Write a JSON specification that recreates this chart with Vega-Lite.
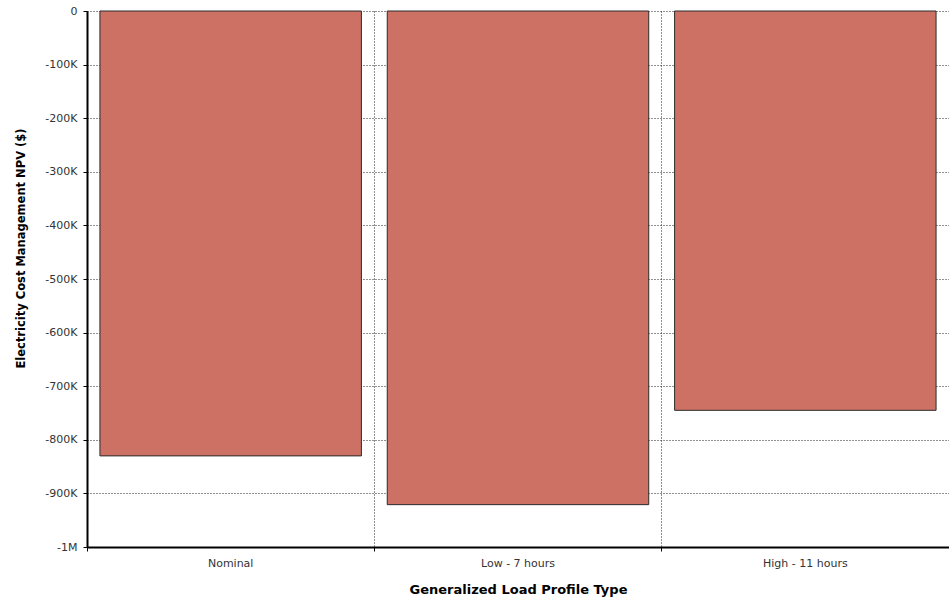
{
  "$schema": "https://vega.github.io/schema/vega-lite/v6.json",
  "width": 862,
  "height": 536,
  "autosize": {"type": "none"},
  "padding": {"left": 87, "top": 11, "right": 0, "bottom": 52},
  "background": "white",
  "config": {
    "view": {"stroke": null},
    "font": "DejaVu Sans",
    "axis": {
      "labelFont": "DejaVu Sans",
      "labelFontSize": 11,
      "labelColor": "#333333",
      "titleFont": "DejaVu Sans",
      "titleFontWeight": "bold",
      "titleColor": "#000000",
      "domainColor": "#000000",
      "domainWidth": 2,
      "tickColor": "#000000",
      "tickSize": 4,
      "gridColor": "#222222",
      "gridDash": [1, 2],
      "gridWidth": 1,
      "gridOpacity": 1
    }
  },
  "data": {
    "values": [
      {"profile": "Nominal", "npv": -830000},
      {"profile": "Low - 7 hours", "npv": -921000},
      {"profile": "High - 11 hours", "npv": -745000}
    ]
  },
  "resolve": {"axis": {"x": "independent"}},
  "layer": [
    {
      "mark": {"type": "bar", "color": "#CD7165", "stroke": "#2b2b2b", "strokeWidth": 1, "width": {"band": 0.91}},
      "encoding": {
        "x": {
          "field": "profile",
          "type": "nominal",
          "sort": null,
          "scale": {"paddingInner": 0, "paddingOuter": 0},
          "axis": {"orient": "bottom", "bandPosition": 0, "grid": true, "labels": false, "ticks": true, "domain": true, "title": null}
        },
        "y": {
          "field": "npv",
          "type": "quantitative",
          "scale": {"domain": [-1000000, 0], "nice": false, "zero": true},
          "axis": {
            "values": [0, -100000, -200000, -300000, -400000, -500000, -600000, -700000, -800000, -900000, -1000000],
            "labelExpr": "datum.value == 0 ? '0' : (datum.value <= -1000000 ? '-1M' : '-' + round(abs(datum.value) / 1000) + 'K')",
            "title": "Electricity Cost Management NPV ($)",
            "titleFontSize": 11.5,
            "titlePadding": 18,
            "titleY": 237,
            "labelPadding": 6,
            "grid": true
          }
        }
      }
    },
    {
      "mark": {"type": "bar", "opacity": 0},
      "encoding": {
        "x": {
          "field": "profile",
          "type": "nominal",
          "sort": null,
          "axis": {"orient": "bottom", "grid": false, "ticks": false, "domain": false, "labelPadding": 10, "labelAngle": 0, "title": "Generalized Load Profile Type", "titleFontSize": 13, "titlePadding": 15}
        },
        "y": {"field": "npv", "type": "quantitative"}
      }
    }
  ]
}
